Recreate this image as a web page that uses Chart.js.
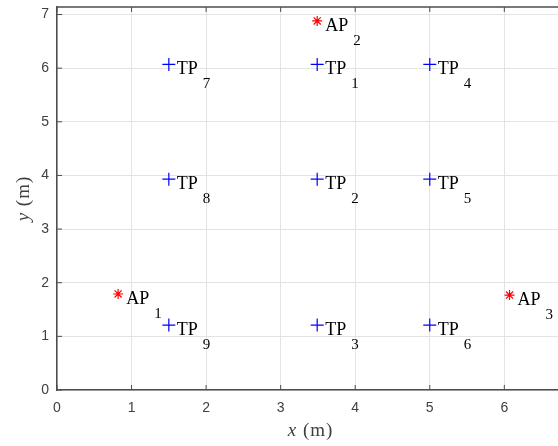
<!DOCTYPE html>
<html>
<head>
<meta charset="utf-8">
<script src="https://cdn.jsdelivr.net/npm/chart.js@4"></script>
<style>
  html, body { margin: 0; padding: 0; background: #fff; overflow: hidden; }
  #wrap { width: 558px; height: 446px; }
</style>
</head>
<body>
<div id="wrap"><canvas id="chart"></canvas></div>
<script>
// access points (red stars)
const apX = [0.82, 3.49, 6.07];
const apY = [1.79, 6.88, 1.77];
const apNames = ['1', '2', '3'];

// test points (blue crosses)
const tpX = [3.49, 3.49, 3.49, 5, 5, 5, 1.5, 1.5, 1.5];
const tpY = [6.07, 3.93, 1.21, 6.07, 3.93, 1.21, 6.07, 3.93, 1.21];
const tpNames = ['1', '2', '3', '4', '5', '6', '7', '8', '9'];

const xTicks = [0, 1, 2, 3, 4, 5, 6];
const yTicks = [0, 1, 2, 3, 4, 5, 6, 7];

const xTitle = ['x', ' (m)'];
const yTitle = ['y', ' (m)'];

const axisColor = '#4d4d4d';
const textColor = '#404040';
const serif = '"Liberation Serif", "Times New Roman", serif';

const toPoints = (xs, ys) => xs.map((x, i) => ({ x: x, y: ys[i] }));

// draws "AP" / "TP" with a subscript next to each marker
const pointLabels = {
  id: 'pointLabels',
  afterDatasetsDraw(chart) {
    const ctx = chart.ctx;
    ctx.save();
    ctx.fillStyle = '#000';
    ctx.textBaseline = 'alphabetic';
    chart.data.datasets.forEach((ds, di) => {
      const meta = chart.getDatasetMeta(di);
      meta.data.forEach((el, i) => {
        const x = el.x + 8;
        const y = el.y + 10;
        ctx.font = '18px ' + serif;
        ctx.fillText(ds.prefix, x, y);
        const w = ctx.measureText(ds.prefix).width;
        ctx.font = '15px ' + serif;
        ctx.fillText(ds.names[i], x + w + 5, y + 14);
      });
    });
    ctx.restore();
  },
};

// title with italic variable name followed by upright unit
const drawTitle = (ctx, parts, cx, cy) => {
  ctx.letterSpacing = '1px';
  ctx.font = 'italic 19px ' + serif;
  const w0 = ctx.measureText(parts[0]).width;
  ctx.font = '19px ' + serif;
  const w1 = ctx.measureText(parts[1]).width;
  const x = cx - (w0 + w1) / 2;
  ctx.font = 'italic 19px ' + serif;
  ctx.fillText(parts[0], x, cy);
  ctx.font = '19px ' + serif;
  ctx.fillText(parts[1], x + w0, cy);
};

// MATLAB style box top line, inward tick marks and axis titles
const boxTicks = {
  id: 'boxTicks',
  afterDraw(chart) {
    const ctx = chart.ctx;
    const area = chart.chartArea;
    const xs = chart.scales.x;
    const ys = chart.scales.y;
    ctx.save();
    ctx.strokeStyle = axisColor;
    ctx.lineWidth = 1.5;
    ctx.beginPath();
    ctx.moveTo(area.left, area.top);
    ctx.lineTo(area.right, area.top);
    ctx.stroke();
    ctx.lineWidth = 1;
    ctx.beginPath();
    xTicks.forEach((v) => {
      const px = xs.getPixelForValue(v);
      ctx.moveTo(px, area.bottom);
      ctx.lineTo(px, area.bottom - 5);
      ctx.moveTo(px, area.top);
      ctx.lineTo(px, area.top + 5);
    });
    yTicks.forEach((v) => {
      const py = ys.getPixelForValue(v);
      ctx.moveTo(area.left, py);
      ctx.lineTo(area.left + 5, py);
    });
    ctx.stroke();

    ctx.fillStyle = textColor;
    ctx.textBaseline = 'middle';
    drawTitle(ctx, xTitle, (area.left + area.right) / 2 + 3, area.bottom + 41);
    ctx.translate(area.left - 33, (area.top + area.bottom) / 2);
    ctx.rotate(-Math.PI / 2);
    drawTitle(ctx, yTitle, 0, 0);
    ctx.restore();
  },
};

const tickFont = { family: '"Liberation Sans", Arial, sans-serif', size: 14 };

new Chart(document.getElementById('chart'), {
  type: 'scatter',
  data: {
    datasets: [
      {
        label: 'AP',
        prefix: 'AP',
        names: apNames,
        data: toPoints(apX, apY),
        pointStyle: 'star',
        radius: 5,
        borderColor: '#ff0000',
        backgroundColor: '#ff0000',
        borderWidth: 1.2,
      },
      {
        label: 'TP',
        prefix: 'TP',
        names: tpNames,
        data: toPoints(tpX, tpY),
        pointStyle: 'cross',
        radius: 6.5,
        borderColor: '#0000ff',
        backgroundColor: '#0000ff',
        borderWidth: 1.2,
      },
    ],
  },
  options: {
    responsive: true,
    maintainAspectRatio: false,
    animation: false,
    layout: { autoPadding: false, padding: { top: 7, right: 0, left: 0, bottom: 0 } },
    plugins: {
      legend: { display: false },
      tooltip: { enabled: false },
    },
    scales: {
      x: {
        type: 'linear',
        min: 0,
        max: 6.72,
        afterBuildTicks: (s) => { s.ticks = xTicks.map((v) => ({ value: v })); },
        afterFit: (s) => {
          s.height = 56;
          s.paddingLeft = 0;
          s.paddingRight = 0;
        },
        grid: { color: '#e3e3e3', drawTicks: false },
        border: { color: axisColor, width: 1.5 },
        ticks: { padding: 10, color: textColor, font: tickFont },
      },
      y: {
        type: 'linear',
        min: 0,
        max: 7.14,
        afterBuildTicks: (s) => { s.ticks = yTicks.map((v) => ({ value: v })); },
        afterFit: (s) => {
          s.width = 57;
          s.paddingTop = 0;
          s.paddingBottom = 0;
        },
        grid: { color: '#e3e3e3', drawTicks: false },
        border: { color: axisColor, width: 1.5 },
        ticks: { padding: 8, color: textColor, font: tickFont },
      },
    },
  },
  plugins: [pointLabels, boxTicks],
});
</script>
</body>
</html>
